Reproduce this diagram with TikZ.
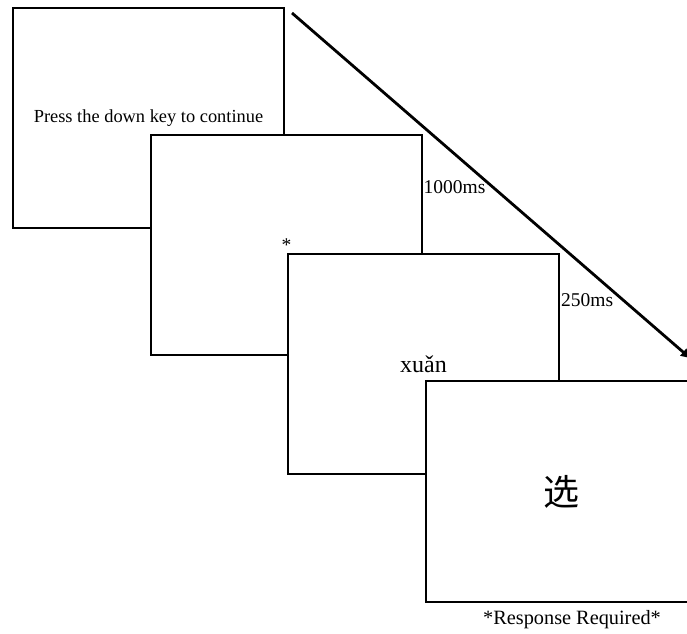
\documentclass[tikz,border=0pt]{standalone}
\usepackage{fontspec}
\setmainfont{Liberation Serif}
\newfontfamily\cjk{Noto Sans CJK SC}
\usepackage{tikz}
\usetikzlibrary{arrows.meta,positioning}

\begin{document}
\begin{tikzpicture}[
    x=1pt, y=-1pt,
    screen/.style={draw=black, line width=1.9pt, fill=white, minimum width=271pt, minimum height=220.5pt, inner sep=0pt, font=\fontsize{18.4}{22}\selectfont},
    lbl/.style={inner sep=1pt, font=\fontsize{19.5}{23}\selectfont},
    arrow/.style={-{Triangle[length=9pt, width=9pt]}, line width=2.8pt, draw=black}
]
\useasboundingbox (0,0) rectangle (687,633);
\clip (0,0) rectangle (687,633);

\node[screen] (intro) at (148.5,118) {Press the down key to continue};
\node[screen] (fixation) at (286.5,245) {\fontsize{19.5}{23}\selectfont *};
\node[screen] (pinyin) at (423.5,364) {\fontsize{24}{28}\selectfont xuǎn};
\node[screen] (hanzi) at (561.5,491.5) {\cjk\fontsize{36}{40}\selectfont 选};

\node[lbl, anchor=west] (t1000) at (422.5,187) {1000ms};
\node[lbl, anchor=west] (t250) at (560,300) {250ms};
\node[lbl, font=\fontsize{20.3}{24}\selectfont] (resp) at (572,620) {*Response Required*};

\coordinate (tstart) at (292,13);
\coordinate (tend) at (690,358);
\draw[arrow] (tstart) -- (tend);
\end{tikzpicture}
\end{document}
